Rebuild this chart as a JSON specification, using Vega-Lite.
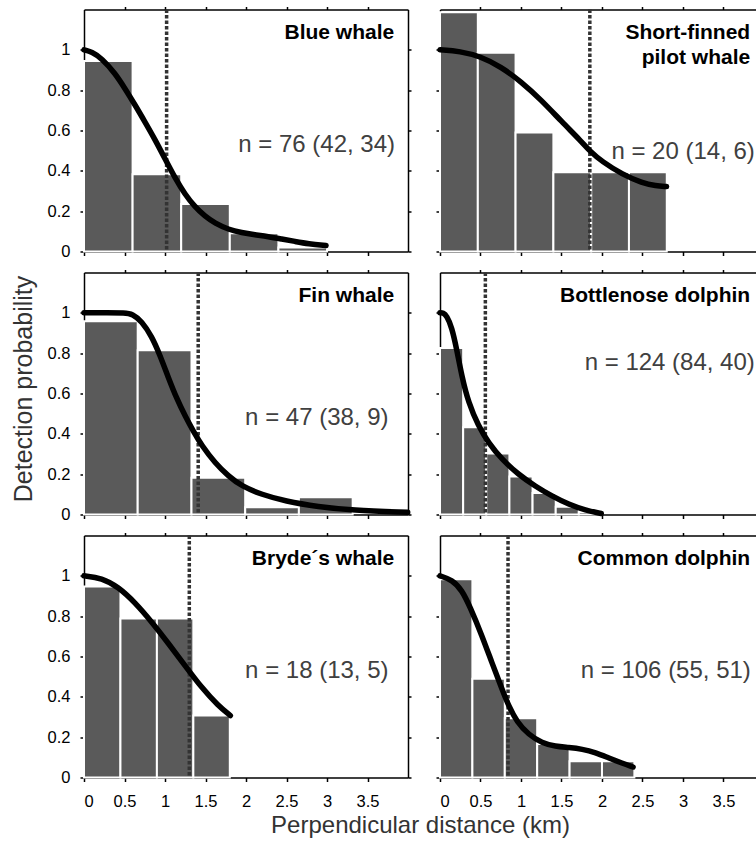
{
  "$schema": "https://vega.github.io/schema/vega-lite/v6.json",
  "padding": {"left": 10, "top": 5.5, "right": 0, "bottom": 0},
  "bounds": "flush",
  "align": "each",
  "columns": 2,
  "spacing": {"row": 21, "column": 32},
  "config": {
    "font": "Liberation Sans",
    "view": {"stroke": null},
    "line": {"color": "black", "strokeWidth": 5.5, "interpolate": "basis", "strokeCap": "round"},
    "rule": {"color": "#333333", "strokeWidth": 3.5, "strokeDash": [3.5, 2]},
    "bar": {"color": "#5a5a5a", "stroke": "white", "strokeWidth": 2},
    "axis": {"domainColor": "black", "domainWidth": 1.5, "tickColor": "black", "tickWidth": 1.5, "tickSize": 4, "grid": false, "labelColor": "black", "labelFontSize": 16.5, "labelFont": "Liberation Sans", "titleFont": "Liberation Sans", "titleFontSize": 24, "titleFontWeight": "normal", "titleColor": "#333333", "zindex": 1}
  },
  "datasets": {
    "bars": [
      {"species": "Blue whale", "x0": 0, "x1": 0.6, "p": 0.945},
      {"species": "Blue whale", "x0": 0.6, "x1": 1.2, "p": 0.383},
      {"species": "Blue whale", "x0": 1.2, "x1": 1.8, "p": 0.236},
      {"species": "Blue whale", "x0": 1.8, "x1": 2.4, "p": 0.091},
      {"species": "Blue whale", "x0": 2.4, "x1": 3.0, "p": 0.02},
      {"species": "Short-finned pilot whale", "x0": 0, "x1": 0.467, "p": 1.186},
      {"species": "Short-finned pilot whale", "x0": 0.467, "x1": 0.933, "p": 0.986},
      {"species": "Short-finned pilot whale", "x0": 0.933, "x1": 1.4, "p": 0.59},
      {"species": "Short-finned pilot whale", "x0": 1.4, "x1": 1.867, "p": 0.393},
      {"species": "Short-finned pilot whale", "x0": 1.867, "x1": 2.333, "p": 0.393},
      {"species": "Short-finned pilot whale", "x0": 2.333, "x1": 2.8, "p": 0.393},
      {"species": "Fin whale", "x0": 0, "x1": 0.663, "p": 0.958},
      {"species": "Fin whale", "x0": 0.663, "x1": 1.327, "p": 0.815},
      {"species": "Fin whale", "x0": 1.327, "x1": 1.99, "p": 0.182},
      {"species": "Fin whale", "x0": 1.99, "x1": 2.653, "p": 0.036},
      {"species": "Fin whale", "x0": 2.653, "x1": 3.317, "p": 0.086},
      {"species": "Bottlenose dolphin", "x0": 0, "x1": 0.286, "p": 0.826},
      {"species": "Bottlenose dolphin", "x0": 0.286, "x1": 0.571, "p": 0.433},
      {"species": "Bottlenose dolphin", "x0": 0.571, "x1": 0.857, "p": 0.302},
      {"species": "Bottlenose dolphin", "x0": 0.857, "x1": 1.143, "p": 0.188},
      {"species": "Bottlenose dolphin", "x0": 1.143, "x1": 1.429, "p": 0.107},
      {"species": "Bottlenose dolphin", "x0": 1.429, "x1": 1.714, "p": 0.038},
      {"species": "Bottlenose dolphin", "x0": 1.714, "x1": 2.0, "p": 0.012},
      {"species": "Bryde´s whale", "x0": 0, "x1": 0.45, "p": 0.947},
      {"species": "Bryde´s whale", "x0": 0.45, "x1": 0.9, "p": 0.788},
      {"species": "Bryde´s whale", "x0": 0.9, "x1": 1.35, "p": 0.788},
      {"species": "Bryde´s whale", "x0": 1.35, "x1": 1.8, "p": 0.308},
      {"species": "Common dolphin", "x0": 0, "x1": 0.4, "p": 0.983},
      {"species": "Common dolphin", "x0": 0.4, "x1": 0.8, "p": 0.49},
      {"species": "Common dolphin", "x0": 0.8, "x1": 1.2, "p": 0.294},
      {"species": "Common dolphin", "x0": 1.2, "x1": 1.6, "p": 0.166},
      {"species": "Common dolphin", "x0": 1.6, "x1": 2.0, "p": 0.08},
      {"species": "Common dolphin", "x0": 2.0, "x1": 2.4, "p": 0.08}
    ],
    "curves": [
      {"species": "Blue whale", "d": 0, "p": 1.0},
      {"species": "Blue whale", "d": 0.095, "p": 0.99},
      {"species": "Blue whale", "d": 0.219, "p": 0.958},
      {"species": "Blue whale", "d": 0.383, "p": 0.884},
      {"species": "Blue whale", "d": 0.506, "p": 0.808},
      {"species": "Blue whale", "d": 0.63, "p": 0.727},
      {"species": "Blue whale", "d": 0.753, "p": 0.642},
      {"species": "Blue whale", "d": 0.877, "p": 0.555},
      {"species": "Blue whale", "d": 1.0, "p": 0.46},
      {"species": "Blue whale", "d": 1.123, "p": 0.365},
      {"species": "Blue whale", "d": 1.247, "p": 0.283},
      {"species": "Blue whale", "d": 1.37, "p": 0.221},
      {"species": "Blue whale", "d": 1.494, "p": 0.174},
      {"species": "Blue whale", "d": 1.617, "p": 0.14},
      {"species": "Blue whale", "d": 1.783, "p": 0.109},
      {"species": "Blue whale", "d": 1.947, "p": 0.093},
      {"species": "Blue whale", "d": 2.111, "p": 0.083},
      {"species": "Blue whale", "d": 2.276, "p": 0.074},
      {"species": "Blue whale", "d": 2.44, "p": 0.062},
      {"species": "Blue whale", "d": 2.605, "p": 0.05},
      {"species": "Blue whale", "d": 2.77, "p": 0.038},
      {"species": "Blue whale", "d": 2.988, "p": 0.03},
      {"species": "Short-finned pilot whale", "d": 0, "p": 1.0},
      {"species": "Short-finned pilot whale", "d": 0.248, "p": 0.993},
      {"species": "Short-finned pilot whale", "d": 0.5, "p": 0.967},
      {"species": "Short-finned pilot whale", "d": 0.748, "p": 0.917},
      {"species": "Short-finned pilot whale", "d": 1.0, "p": 0.843},
      {"species": "Short-finned pilot whale", "d": 1.248, "p": 0.752},
      {"species": "Short-finned pilot whale", "d": 1.5, "p": 0.645},
      {"species": "Short-finned pilot whale", "d": 1.748, "p": 0.545},
      {"species": "Short-finned pilot whale", "d": 1.847, "p": 0.499},
      {"species": "Short-finned pilot whale", "d": 2.0, "p": 0.446},
      {"species": "Short-finned pilot whale", "d": 2.248, "p": 0.383},
      {"species": "Short-finned pilot whale", "d": 2.5, "p": 0.339},
      {"species": "Short-finned pilot whale", "d": 2.665, "p": 0.326},
      {"species": "Short-finned pilot whale", "d": 2.797, "p": 0.322},
      {"species": "Fin whale", "d": 0, "p": 1.0},
      {"species": "Fin whale", "d": 0.3, "p": 1.0},
      {"species": "Fin whale", "d": 0.5, "p": 1.0},
      {"species": "Fin whale", "d": 0.6, "p": 0.995},
      {"species": "Fin whale", "d": 0.712, "p": 0.958},
      {"species": "Fin whale", "d": 0.836, "p": 0.884},
      {"species": "Fin whale", "d": 0.938, "p": 0.79},
      {"species": "Fin whale", "d": 1.04, "p": 0.68},
      {"species": "Fin whale", "d": 1.144, "p": 0.575},
      {"species": "Fin whale", "d": 1.25, "p": 0.487},
      {"species": "Fin whale", "d": 1.35, "p": 0.413},
      {"species": "Fin whale", "d": 1.453, "p": 0.342},
      {"species": "Fin whale", "d": 1.617, "p": 0.256},
      {"species": "Fin whale", "d": 1.783, "p": 0.19},
      {"species": "Fin whale", "d": 1.947, "p": 0.14},
      {"species": "Fin whale", "d": 2.194, "p": 0.099},
      {"species": "Fin whale", "d": 2.482, "p": 0.066},
      {"species": "Fin whale", "d": 2.894, "p": 0.038},
      {"species": "Fin whale", "d": 3.305, "p": 0.021},
      {"species": "Fin whale", "d": 3.996, "p": 0.011},
      {"species": "Bottlenose dolphin", "d": 0, "p": 1.0},
      {"species": "Bottlenose dolphin", "d": 0.04, "p": 1.0},
      {"species": "Bottlenose dolphin", "d": 0.083, "p": 0.985},
      {"species": "Bottlenose dolphin", "d": 0.145, "p": 0.93},
      {"species": "Bottlenose dolphin", "d": 0.207, "p": 0.818},
      {"species": "Bottlenose dolphin", "d": 0.269, "p": 0.686},
      {"species": "Bottlenose dolphin", "d": 0.351, "p": 0.554},
      {"species": "Bottlenose dolphin", "d": 0.475, "p": 0.438},
      {"species": "Bottlenose dolphin", "d": 0.599, "p": 0.355},
      {"species": "Bottlenose dolphin", "d": 0.764, "p": 0.273},
      {"species": "Bottlenose dolphin", "d": 0.97, "p": 0.198},
      {"species": "Bottlenose dolphin", "d": 1.177, "p": 0.14},
      {"species": "Bottlenose dolphin", "d": 1.383, "p": 0.091},
      {"species": "Bottlenose dolphin", "d": 1.59, "p": 0.05},
      {"species": "Bottlenose dolphin", "d": 1.797, "p": 0.021},
      {"species": "Bottlenose dolphin", "d": 1.991, "p": 0.005},
      {"species": "Bryde´s whale", "d": 0, "p": 1.0},
      {"species": "Bryde´s whale", "d": 0.219, "p": 0.99},
      {"species": "Bryde´s whale", "d": 0.424, "p": 0.945},
      {"species": "Bryde´s whale", "d": 0.63, "p": 0.868},
      {"species": "Bryde´s whale", "d": 0.836, "p": 0.772},
      {"species": "Bryde´s whale", "d": 1.042, "p": 0.665},
      {"species": "Bryde´s whale", "d": 1.247, "p": 0.555},
      {"species": "Bryde´s whale", "d": 1.453, "p": 0.445},
      {"species": "Bryde´s whale", "d": 1.659, "p": 0.355},
      {"species": "Bryde´s whale", "d": 1.807, "p": 0.307},
      {"species": "Common dolphin", "d": 0, "p": 1.0},
      {"species": "Common dolphin", "d": 0.15, "p": 0.98},
      {"species": "Common dolphin", "d": 0.27, "p": 0.93},
      {"species": "Common dolphin", "d": 0.372, "p": 0.845},
      {"species": "Common dolphin", "d": 0.517, "p": 0.705},
      {"species": "Common dolphin", "d": 0.64, "p": 0.57},
      {"species": "Common dolphin", "d": 0.764, "p": 0.44},
      {"species": "Common dolphin", "d": 0.847, "p": 0.355},
      {"species": "Common dolphin", "d": 0.95, "p": 0.275},
      {"species": "Common dolphin", "d": 1.095, "p": 0.212},
      {"species": "Common dolphin", "d": 1.26, "p": 0.171},
      {"species": "Common dolphin", "d": 1.425, "p": 0.154},
      {"species": "Common dolphin", "d": 1.59, "p": 0.149},
      {"species": "Common dolphin", "d": 1.756, "p": 0.141},
      {"species": "Common dolphin", "d": 1.92, "p": 0.124},
      {"species": "Common dolphin", "d": 2.087, "p": 0.096},
      {"species": "Common dolphin", "d": 2.25, "p": 0.071},
      {"species": "Common dolphin", "d": 2.384, "p": 0.052}
    ],
    "esw": [
      {"species": "Blue whale", "esw": 1.02},
      {"species": "Short-finned pilot whale", "esw": 1.85},
      {"species": "Fin whale", "esw": 1.41},
      {"species": "Bottlenose dolphin", "esw": 0.56},
      {"species": "Bryde´s whale", "esw": 1.3},
      {"species": "Common dolphin", "esw": 0.84}
    ],
    "labels": [
      {"species": "Blue whale", "name": "Blue whale", "n": "n = 76 (42, 34)"},
      {"species": "Short-finned pilot whale", "name": ["Short-finned", "pilot whale"], "n": "n = 20 (14, 6)"},
      {"species": "Fin whale", "name": "Fin whale", "n": "n = 47 (38, 9)"},
      {"species": "Bottlenose dolphin", "name": "Bottlenose dolphin", "n": "n = 124 (84, 40)"},
      {"species": "Bryde´s whale", "name": "Bryde´s whale", "n": "n = 18 (13, 5)"},
      {"species": "Common dolphin", "name": "Common dolphin", "n": "n = 106 (55, 51)"}
    ]
  },
  "concat": [
    {
      "width": 324, "height": 242,
      "resolve": {"axis": {"x": "independent", "y": "independent"}},
      "layer": [
        {"data": {"name": "bars"}, "transform": [{"filter": {"field": "species", "equal": "Blue whale"}}],
         "mark": {"type": "bar"},
         "encoding": {
           "x": {"field": "x0", "type": "quantitative", "scale": {"domain": [0, 4], "nice": false, "zero": false}, "axis": {"orient": "bottom", "values": [0, 0.5, 1, 1.5, 2, 2.5, 3, 3.5], "labels": false, "title": null}},
           "x2": {"field": "x1"},
           "y": {"field": "p", "type": "quantitative", "scale": {"domain": [0, 1.2], "nice": false}, "axis": {"orient": "left", "values": [0, 0.2, 0.4, 0.6, 0.8, 1], "format": "~g", "labelPadding": 10, "title": null}},
           "y2": {"datum": 0}
         }},
        {"data": {"name": "esw"}, "transform": [{"filter": {"field": "species", "equal": "Blue whale"}}],
         "mark": {"type": "rule"},
         "encoding": {"x": {"field": "esw", "type": "quantitative", "scale": {"domain": [0, 4], "nice": false, "zero": false}, "axis": null}}},
        {"data": {"name": "curves"}, "transform": [{"filter": {"field": "species", "equal": "Blue whale"}}],
         "mark": {"type": "line"},
         "encoding": {
           "x": {"field": "d", "type": "quantitative", "scale": {"domain": [0, 4], "nice": false, "zero": false}, "axis": {"orient": "top", "values": [0.5, 1, 1.5, 2, 2.5, 3, 3.5], "labels": false, "tickSize": 3, "title": null}},
           "y": {"field": "p", "type": "quantitative", "scale": {"domain": [0, 1.2], "nice": false}, "axis": {"orient": "right", "values": [0, 0.2, 0.4, 0.6, 0.8, 1], "labels": false, "tickSize": 3, "title": null}}
         }},
        {"data": {"name": "labels"}, "transform": [{"filter": {"field": "species", "equal": "Blue whale"}}],
         "mark": {"type": "text", "align": "right", "baseline": "alphabetic", "fontSize": 21, "fontWeight": "bold", "color": "black", "lineHeight": 25},
         "encoding": {
           "x": {"datum": 3.83, "type": "quantitative", "scale": {"domain": [0, 4], "nice": false, "zero": false}, "axis": null},
           "y": {"datum": 1.054, "type": "quantitative", "scale": {"domain": [0, 1.2], "nice": false}, "axis": null},
           "text": {"field": "name"}
         }},
        {"data": {"name": "labels"}, "transform": [{"filter": {"field": "species", "equal": "Blue whale"}}],
         "mark": {"type": "text", "align": "right", "baseline": "alphabetic", "fontSize": 24, "color": "#404040"},
         "encoding": {
           "x": {"datum": 3.84, "type": "quantitative", "scale": {"domain": [0, 4], "nice": false, "zero": false}, "axis": null},
           "y": {"datum": 0.492, "type": "quantitative", "scale": {"domain": [0, 1.2], "nice": false}, "axis": null},
           "text": {"field": "n"}
         }}
      ]
    },
    {
      "width": 317, "height": 242,
      "resolve": {"axis": {"x": "independent", "y": "independent"}},
      "layer": [
        {"data": {"name": "bars"}, "transform": [{"filter": {"field": "species", "equal": "Short-finned pilot whale"}}],
         "mark": {"type": "bar"},
         "encoding": {
           "x": {"field": "x0", "type": "quantitative", "scale": {"domain": [0, 3.914], "nice": false, "zero": false}, "axis": {"orient": "bottom", "values": [0, 0.5, 1, 1.5, 2, 2.5, 3, 3.5], "labels": false, "title": null}},
           "x2": {"field": "x1"},
           "y": {"field": "p", "type": "quantitative", "scale": {"domain": [0, 1.2], "nice": false}, "axis": {"orient": "left", "values": [0, 0.2, 0.4, 0.6, 0.8, 1], "labels": false, "title": null}},
           "y2": {"datum": 0}
         }},
        {"data": {"name": "esw"}, "transform": [{"filter": {"field": "species", "equal": "Short-finned pilot whale"}}],
         "mark": {"type": "rule"},
         "encoding": {"x": {"field": "esw", "type": "quantitative", "scale": {"domain": [0, 3.914], "nice": false, "zero": false}, "axis": null}}},
        {"data": {"name": "curves"}, "transform": [{"filter": {"field": "species", "equal": "Short-finned pilot whale"}}],
         "mark": {"type": "line"},
         "encoding": {
           "x": {"field": "d", "type": "quantitative", "scale": {"domain": [0, 3.914], "nice": false, "zero": false}, "axis": {"orient": "top", "values": [0.5, 1, 1.5, 2, 2.5, 3, 3.5], "labels": false, "tickSize": 3, "title": null}},
           "y": {"field": "p", "type": "quantitative", "scale": {"domain": [0, 1.2], "nice": false}, "axis": null}
         }},
        {"data": {"name": "labels"}, "transform": [{"filter": {"field": "species", "equal": "Short-finned pilot whale"}}],
         "mark": {"type": "text", "align": "right", "baseline": "alphabetic", "fontSize": 21, "fontWeight": "bold", "color": "black", "lineHeight": 25},
         "encoding": {
           "x": {"datum": 3.83, "type": "quantitative", "scale": {"domain": [0, 3.914], "nice": false, "zero": false}, "axis": null},
           "y": {"datum": 1.054, "type": "quantitative", "scale": {"domain": [0, 1.2], "nice": false}, "axis": null},
           "text": {"field": "name"}
         }},
        {"data": {"name": "labels"}, "transform": [{"filter": {"field": "species", "equal": "Short-finned pilot whale"}}],
         "mark": {"type": "text", "align": "right", "baseline": "alphabetic", "fontSize": 24, "color": "#404040"},
         "encoding": {
           "x": {"datum": 3.887, "type": "quantitative", "scale": {"domain": [0, 3.914], "nice": false, "zero": false}, "axis": null},
           "y": {"datum": 0.458, "type": "quantitative", "scale": {"domain": [0, 1.2], "nice": false}, "axis": null},
           "text": {"field": "n"}
         }}
      ]
    },
    {
      "width": 324, "height": 242,
      "resolve": {"axis": {"x": "independent", "y": "independent"}},
      "layer": [
        {"data": {"name": "bars"}, "transform": [{"filter": {"field": "species", "equal": "Fin whale"}}],
         "mark": {"type": "bar"},
         "encoding": {
           "x": {"field": "x0", "type": "quantitative", "scale": {"domain": [0, 4], "nice": false, "zero": false}, "axis": {"orient": "bottom", "values": [0, 0.5, 1, 1.5, 2, 2.5, 3, 3.5], "labels": false, "title": null}},
           "x2": {"field": "x1"},
           "y": {"field": "p", "type": "quantitative", "scale": {"domain": [0, 1.2], "nice": false}, "axis": {"orient": "left", "values": [0, 0.2, 0.4, 0.6, 0.8, 1], "format": "~g", "labelPadding": 10, "title": "Detection probability", "titleFontSize": 25, "titleAngle": 270, "titleX": -53, "titleY": 116, "titleAlign": "center", "titleBaseline": "alphabetic"}},
           "y2": {"datum": 0}
         }},
        {"data": {"name": "esw"}, "transform": [{"filter": {"field": "species", "equal": "Fin whale"}}],
         "mark": {"type": "rule"},
         "encoding": {"x": {"field": "esw", "type": "quantitative", "scale": {"domain": [0, 4], "nice": false, "zero": false}, "axis": null}}},
        {"data": {"name": "curves"}, "transform": [{"filter": {"field": "species", "equal": "Fin whale"}}],
         "mark": {"type": "line"},
         "encoding": {
           "x": {"field": "d", "type": "quantitative", "scale": {"domain": [0, 4], "nice": false, "zero": false}, "axis": {"orient": "top", "values": [0.5, 1, 1.5, 2, 2.5, 3, 3.5], "labels": false, "tickSize": 3, "title": null}},
           "y": {"field": "p", "type": "quantitative", "scale": {"domain": [0, 1.2], "nice": false}, "axis": {"orient": "right", "values": [0, 0.2, 0.4, 0.6, 0.8, 1], "labels": false, "tickSize": 3, "title": null}}
         }},
        {"data": {"name": "labels"}, "transform": [{"filter": {"field": "species", "equal": "Fin whale"}}],
         "mark": {"type": "text", "align": "right", "baseline": "alphabetic", "fontSize": 21, "fontWeight": "bold", "color": "black", "lineHeight": 25},
         "encoding": {
           "x": {"datum": 3.83, "type": "quantitative", "scale": {"domain": [0, 4], "nice": false, "zero": false}, "axis": null},
           "y": {"datum": 1.054, "type": "quantitative", "scale": {"domain": [0, 1.2], "nice": false}, "axis": null},
           "text": {"field": "name"}
         }},
        {"data": {"name": "labels"}, "transform": [{"filter": {"field": "species", "equal": "Fin whale"}}],
         "mark": {"type": "text", "align": "right", "baseline": "alphabetic", "fontSize": 24, "color": "#404040"},
         "encoding": {
           "x": {"datum": 3.76, "type": "quantitative", "scale": {"domain": [0, 4], "nice": false, "zero": false}, "axis": null},
           "y": {"datum": 0.446, "type": "quantitative", "scale": {"domain": [0, 1.2], "nice": false}, "axis": null},
           "text": {"field": "n"}
         }}
      ]
    },
    {
      "width": 317, "height": 242,
      "resolve": {"axis": {"x": "independent", "y": "independent"}},
      "layer": [
        {"data": {"name": "bars"}, "transform": [{"filter": {"field": "species", "equal": "Bottlenose dolphin"}}],
         "mark": {"type": "bar"},
         "encoding": {
           "x": {"field": "x0", "type": "quantitative", "scale": {"domain": [0, 3.914], "nice": false, "zero": false}, "axis": {"orient": "bottom", "values": [0, 0.5, 1, 1.5, 2, 2.5, 3, 3.5], "labels": false, "title": null}},
           "x2": {"field": "x1"},
           "y": {"field": "p", "type": "quantitative", "scale": {"domain": [0, 1.2], "nice": false}, "axis": {"orient": "left", "values": [0, 0.2, 0.4, 0.6, 0.8, 1], "labels": false, "title": null}},
           "y2": {"datum": 0}
         }},
        {"data": {"name": "esw"}, "transform": [{"filter": {"field": "species", "equal": "Bottlenose dolphin"}}],
         "mark": {"type": "rule"},
         "encoding": {"x": {"field": "esw", "type": "quantitative", "scale": {"domain": [0, 3.914], "nice": false, "zero": false}, "axis": null}}},
        {"data": {"name": "curves"}, "transform": [{"filter": {"field": "species", "equal": "Bottlenose dolphin"}}],
         "mark": {"type": "line"},
         "encoding": {
           "x": {"field": "d", "type": "quantitative", "scale": {"domain": [0, 3.914], "nice": false, "zero": false}, "axis": {"orient": "top", "values": [0.5, 1, 1.5, 2, 2.5, 3, 3.5], "labels": false, "tickSize": 3, "title": null}},
           "y": {"field": "p", "type": "quantitative", "scale": {"domain": [0, 1.2], "nice": false}, "axis": null}
         }},
        {"data": {"name": "labels"}, "transform": [{"filter": {"field": "species", "equal": "Bottlenose dolphin"}}],
         "mark": {"type": "text", "align": "right", "baseline": "alphabetic", "fontSize": 21, "fontWeight": "bold", "color": "black", "lineHeight": 25},
         "encoding": {
           "x": {"datum": 3.83, "type": "quantitative", "scale": {"domain": [0, 3.914], "nice": false, "zero": false}, "axis": null},
           "y": {"datum": 1.054, "type": "quantitative", "scale": {"domain": [0, 1.2], "nice": false}, "axis": null},
           "text": {"field": "name"}
         }},
        {"data": {"name": "labels"}, "transform": [{"filter": {"field": "species", "equal": "Bottlenose dolphin"}}],
         "mark": {"type": "text", "align": "right", "baseline": "alphabetic", "fontSize": 24, "color": "#404040"},
         "encoding": {
           "x": {"datum": 3.887, "type": "quantitative", "scale": {"domain": [0, 3.914], "nice": false, "zero": false}, "axis": null},
           "y": {"datum": 0.719, "type": "quantitative", "scale": {"domain": [0, 1.2], "nice": false}, "axis": null},
           "text": {"field": "n"}
         }}
      ]
    },
    {
      "width": 324, "height": 242,
      "resolve": {"axis": {"x": "independent", "y": "independent"}},
      "layer": [
        {"data": {"name": "bars"}, "transform": [{"filter": {"field": "species", "equal": "Bryde´s whale"}}],
         "mark": {"type": "bar"},
         "encoding": {
           "x": {"field": "x0", "type": "quantitative", "scale": {"domain": [0, 4], "nice": false, "zero": false}, "axis": {"orient": "bottom", "values": [0, 0.5, 1, 1.5, 2, 2.5, 3, 3.5], "format": "~g", "labelPadding": 12, "title": "Perpendicular distance (km)", "titleX": 336, "titleY": 55, "titleAlign": "center", "titleBaseline": "alphabetic"}},
           "x2": {"field": "x1"},
           "y": {"field": "p", "type": "quantitative", "scale": {"domain": [0, 1.2], "nice": false}, "axis": {"orient": "left", "values": [0, 0.2, 0.4, 0.6, 0.8, 1], "format": "~g", "labelPadding": 10, "title": null}},
           "y2": {"datum": 0}
         }},
        {"data": {"name": "esw"}, "transform": [{"filter": {"field": "species", "equal": "Bryde´s whale"}}],
         "mark": {"type": "rule"},
         "encoding": {"x": {"field": "esw", "type": "quantitative", "scale": {"domain": [0, 4], "nice": false, "zero": false}, "axis": null}}},
        {"data": {"name": "curves"}, "transform": [{"filter": {"field": "species", "equal": "Bryde´s whale"}}],
         "mark": {"type": "line"},
         "encoding": {
           "x": {"field": "d", "type": "quantitative", "scale": {"domain": [0, 4], "nice": false, "zero": false}, "axis": {"orient": "top", "values": [0.5, 1, 1.5, 2, 2.5, 3, 3.5], "labels": false, "tickSize": 3, "title": null}},
           "y": {"field": "p", "type": "quantitative", "scale": {"domain": [0, 1.2], "nice": false}, "axis": {"orient": "right", "values": [0, 0.2, 0.4, 0.6, 0.8, 1], "labels": false, "tickSize": 3, "title": null}}
         }},
        {"data": {"name": "labels"}, "transform": [{"filter": {"field": "species", "equal": "Bryde´s whale"}}],
         "mark": {"type": "text", "align": "right", "baseline": "alphabetic", "fontSize": 21, "fontWeight": "bold", "color": "black", "lineHeight": 25},
         "encoding": {
           "x": {"datum": 3.83, "type": "quantitative", "scale": {"domain": [0, 4], "nice": false, "zero": false}, "axis": null},
           "y": {"datum": 1.054, "type": "quantitative", "scale": {"domain": [0, 1.2], "nice": false}, "axis": null},
           "text": {"field": "name"}
         }},
        {"data": {"name": "labels"}, "transform": [{"filter": {"field": "species", "equal": "Bryde´s whale"}}],
         "mark": {"type": "text", "align": "right", "baseline": "alphabetic", "fontSize": 24, "color": "#404040"},
         "encoding": {
           "x": {"datum": 3.76, "type": "quantitative", "scale": {"domain": [0, 4], "nice": false, "zero": false}, "axis": null},
           "y": {"datum": 0.494, "type": "quantitative", "scale": {"domain": [0, 1.2], "nice": false}, "axis": null},
           "text": {"field": "n"}
         }}
      ]
    },
    {
      "width": 317, "height": 242,
      "resolve": {"axis": {"x": "independent", "y": "independent"}},
      "layer": [
        {"data": {"name": "bars"}, "transform": [{"filter": {"field": "species", "equal": "Common dolphin"}}],
         "mark": {"type": "bar"},
         "encoding": {
           "x": {"field": "x0", "type": "quantitative", "scale": {"domain": [0, 3.914], "nice": false, "zero": false}, "axis": {"orient": "bottom", "values": [0, 0.5, 1, 1.5, 2, 2.5, 3, 3.5], "format": "~g", "labelPadding": 12, "title": null}},
           "x2": {"field": "x1"},
           "y": {"field": "p", "type": "quantitative", "scale": {"domain": [0, 1.2], "nice": false}, "axis": {"orient": "left", "values": [0, 0.2, 0.4, 0.6, 0.8, 1], "labels": false, "title": null}},
           "y2": {"datum": 0}
         }},
        {"data": {"name": "esw"}, "transform": [{"filter": {"field": "species", "equal": "Common dolphin"}}],
         "mark": {"type": "rule"},
         "encoding": {"x": {"field": "esw", "type": "quantitative", "scale": {"domain": [0, 3.914], "nice": false, "zero": false}, "axis": null}}},
        {"data": {"name": "curves"}, "transform": [{"filter": {"field": "species", "equal": "Common dolphin"}}],
         "mark": {"type": "line"},
         "encoding": {
           "x": {"field": "d", "type": "quantitative", "scale": {"domain": [0, 3.914], "nice": false, "zero": false}, "axis": {"orient": "top", "values": [0.5, 1, 1.5, 2, 2.5, 3, 3.5], "labels": false, "tickSize": 3, "title": null}},
           "y": {"field": "p", "type": "quantitative", "scale": {"domain": [0, 1.2], "nice": false}, "axis": null}
         }},
        {"data": {"name": "labels"}, "transform": [{"filter": {"field": "species", "equal": "Common dolphin"}}],
         "mark": {"type": "text", "align": "right", "baseline": "alphabetic", "fontSize": 21, "fontWeight": "bold", "color": "black", "lineHeight": 25},
         "encoding": {
           "x": {"datum": 3.83, "type": "quantitative", "scale": {"domain": [0, 3.914], "nice": false, "zero": false}, "axis": null},
           "y": {"datum": 1.054, "type": "quantitative", "scale": {"domain": [0, 1.2], "nice": false}, "axis": null},
           "text": {"field": "name"}
         }},
        {"data": {"name": "labels"}, "transform": [{"filter": {"field": "species", "equal": "Common dolphin"}}],
         "mark": {"type": "text", "align": "right", "baseline": "alphabetic", "fontSize": 24, "color": "#404040"},
         "encoding": {
           "x": {"datum": 3.838, "type": "quantitative", "scale": {"domain": [0, 3.914], "nice": false, "zero": false}, "axis": null},
           "y": {"datum": 0.494, "type": "quantitative", "scale": {"domain": [0, 1.2], "nice": false}, "axis": null},
           "text": {"field": "n"}
         }}
      ]
    }
  ]
}
